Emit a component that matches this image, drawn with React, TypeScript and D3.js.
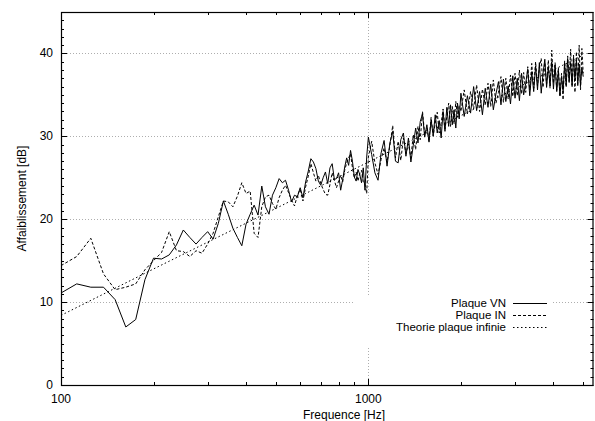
import * as d3 from "d3";

// grille de fréquences : 3 segments à pas constant
const segStarts = [100, 1000, 2000];
const segSteps = [12.5, 25, 50];

// Plaque VN (trait plein)
const vnLow = [
  11.1, 12.2, 11.8, 11.8, 10.3, 7.0, 7.9, 12.7, 15.3, 15.2,
  15.7, 16.9, 18.7, 17.8, 17.0, 17.8, 18.5, 17.6, 19.5, 22.2,
  20.6, 18.9, 17.8, 16.8, 19.4, 20.6, 21.7, 20.5, 24.0, 21.5,
  20.6, 22.9, 23.8, 24.9, 24.4, 24.7, 23.5, 22.1, 22.9, 22.7,
  23.8, 22.6, 24.5, 25.8, 27.3, 26.9, 26.1, 24.6, 24.1, 25.0,
  25.7, 24.3, 26.2, 26.7, 24.8, 24.9, 25.6, 23.5, 24.8, 26.3,
  27.4, 26.5, 28.3, 27.0, 25.1, 24.6, 26.0, 25.4, 24.4, 26.2,
  23.5, 27.5,
];
const vnMid = [
  29.9, 27.8, 25.6, 24.7, 28.0, 29.5, 26.4, 29.2, 30.6, 27.0,
  26.8, 29.6, 30.4, 27.6, 29.8, 26.9, 28.9, 31.0, 29.2, 31.8,
  32.7, 29.9, 31.4, 29.3, 32.0, 30.1, 32.6, 30.4, 31.9, 29.8,
  33.0, 30.6, 33.5, 31.2, 33.8, 31.4, 33.2, 31.0, 34.0, 32.1,
];
const vnHigh = [
  35.2, 32.4, 34.9, 32.8, 36.0, 33.1, 35.4, 32.6, 35.8, 33.5,
  36.3, 33.2, 35.1, 36.6, 33.8, 36.9, 34.2, 36.1, 33.9, 37.3,
  34.6, 37.0, 34.3, 37.6, 35.0, 36.4, 38.1, 34.9, 37.8, 35.4,
  38.5, 35.6, 38.9, 35.2, 37.6, 39.3, 35.9, 38.4, 36.1, 39.0,
  35.7, 38.6, 35.4, 37.9, 34.9, 37.2, 35.5, 38.8, 36.2, 39.4,
  36.6, 38.9, 36.0, 39.6, 36.8, 39.2, 36.4, 38.7, 36.1, 38.3,
  37.2,
];

// Plaque IN (tirets)
const inLow = [
  14.4, 15.5, 17.7, 13.4, 11.5, 11.8, 12.2, 13.9, 15.0, 16.0,
  18.5, 16.2, 16.1, 15.5, 16.2, 15.9, 17.0, 18.3, 20.3, 22.2,
  22.1, 21.5, 22.8, 24.4, 23.1, 23.4, 18.3, 17.8, 21.5, 22.7,
  22.9, 21.9, 21.2, 22.6, 23.5, 24.1, 23.2, 22.3, 21.6, 22.9,
  23.6, 22.2, 23.9, 25.2, 26.7, 25.6, 24.6, 25.3, 24.3, 23.6,
  23.0, 22.9, 24.2, 25.6, 24.7, 23.8, 24.6, 25.3, 24.5, 25.9,
  26.8, 27.4, 27.9, 26.2, 25.0, 25.7, 24.6, 25.5, 25.9, 24.5,
  24.2, 23.1,
];
const inMid = [
  27.5, 29.4, 26.8, 25.4, 27.2, 28.6, 26.9, 28.9, 31.3, 27.4,
  29.4, 27.1, 29.8, 27.9, 29.1, 27.4, 30.2, 28.4, 31.2, 29.6,
  33.0, 30.2, 31.0, 29.4, 32.3, 30.0, 31.6, 32.9, 30.4, 31.6,
  33.3, 30.9, 32.4, 34.0, 31.2, 33.6, 31.5, 34.2, 32.3, 33.7,
];
const inHigh = [
  33.0, 35.6, 32.7, 35.4, 33.3, 36.2, 33.0, 35.7, 33.8, 36.4,
  33.6, 36.8, 34.0, 35.3, 37.2, 34.1, 37.0, 34.5, 37.4, 34.8,
  37.6, 34.9, 38.0, 35.1, 37.7, 35.3, 38.4, 35.6, 38.8, 35.8,
  39.0, 36.1, 38.3, 39.4, 35.9, 38.9, 36.3, 39.2, 35.8, 40.4,
  36.4, 38.9, 35.6, 38.3, 34.8, 37.6, 34.4, 39.1, 35.9, 39.7,
  36.5, 40.5, 36.2, 39.8, 35.3, 40.2, 36.0, 41.0, 35.6, 40.6,
  37.6,
];

// Theorie plaque infinie (pointillés)
const theoryFreq = [100, 200, 500, 1000, 2000, 5000];
const theoryDb = [8.4, 14.0, 21.3, 26.9, 32.5, 39.8];

const yTickValues = [0, 10, 20, 30, 40];
const xTickLabels = [100, 1000];

const legendLabels = ["Plaque VN", "Plaque IN", "Theorie plaque infinie"];
const legendDash = ["none", "3,2", "1.5,2.5"];

type Pt = [number, number];

function buildSeries(segs: number[][]): Pt[] {
  return segs.flatMap((vals, s) =>
    vals.map((v, i) => [segStarts[s] + i * segSteps[s], v] as Pt),
  );
}

const W = 595;
const H = 421;
const margin = { top: 12, right: 1.5, bottom: 36, left: 61 };
const font = "'Liberation Sans', Arial, Helvetica, sans-serif";

export default function App() {
  const innerLeft = margin.left;
  const innerRight = W - margin.right;
  const innerTop = margin.top;
  const innerBottom = H - margin.bottom;

  const x = d3.scaleLog().domain([100, 5400]).range([innerLeft, innerRight]);
  const y = d3.scaleLinear().domain([0, 45]).range([innerBottom, innerTop]);

  const vn = buildSeries([vnLow, vnMid, vnHigh]);
  const inn = buildSeries([inLow, inMid, inHigh]);
  const theory: Pt[] = theoryFreq.map((f, i) => [f, theoryDb[i]]);

  const line = d3
    .line<Pt>()
    .x((d) => x(d[0]))
    .y((d) => y(d[1]));

  // ticks mineurs
  const yMinor = d3.range(0, 46, 1);
  const xMinor = [
    ...d3.range(200, 1000, 100),
    ...d3.range(2000, 5400, 1000),
  ];

  // cadre de la légende
  const legendBox = { x0: 353, x1: 553, y0: 297, y1: 348 };
  const legendTextX = 506;
  const legendRowY = [303, 315, 327];

  return (
    <>
      <style>{`body{margin:0}`}</style>
      <svg width={W} height={H} style={{ display: "block", background: "#fff" }}>
        <defs>
          <clipPath id="plot-clip">
            <rect
              x={innerLeft}
              y={innerTop}
              width={innerRight - innerLeft}
              height={innerBottom - innerTop}
            />
          </clipPath>
        </defs>

        {/* grille */}
        {yTickValues.slice(1).map((v) => (
          <line
            key={"gy" + v}
            x1={innerLeft}
            x2={innerRight}
            y1={Math.round(y(v)) + 0.5}
            y2={Math.round(y(v)) + 0.5}
            stroke="#999"
            strokeWidth={0.8}
            strokeDasharray="1,2"
          />
        ))}
        <line
          x1={Math.round(x(1000)) + 0.5}
          x2={Math.round(x(1000)) + 0.5}
          y1={innerTop}
          y2={innerBottom}
          stroke="#999"
          strokeWidth={0.8}
          strokeDasharray="1,2"
        />

        {/* fond de la légende */}
        <rect
          x={legendBox.x0}
          y={legendBox.y0}
          width={legendBox.x1 - legendBox.x0}
          height={legendBox.y1 - legendBox.y0}
          fill="#fff"
        />

        {/* courbes */}
        <g clipPath="url(#plot-clip)" fill="none" stroke="#000" strokeWidth={1}>
          <path d={line(theory) || ""} strokeDasharray={legendDash[2]} />
          <path d={line(inn) || ""} strokeDasharray={legendDash[1]} />
          <path d={line(vn) || ""} />
        </g>

        {/* ticks */}
        <g stroke="#000" strokeWidth={1}>
          {yMinor.map((v) => {
            const len = v % 10 === 0 ? 6 : 3;
            const yy = Math.round(y(v)) + 0.5;
            return (
              <g key={"ty" + v}>
                <line x1={innerLeft} x2={innerLeft + len} y1={yy} y2={yy} />
                <line x1={innerRight} x2={innerRight - len} y1={yy} y2={yy} />
              </g>
            );
          })}
          {xMinor.map((f) => {
            const xx = Math.round(x(f)) + 0.5;
            return (
              <g key={"tx" + f}>
                <line x1={xx} x2={xx} y1={innerBottom} y2={innerBottom - 3} />
                <line x1={xx} x2={xx} y1={innerTop} y2={innerTop + 3} />
              </g>
            );
          })}
          {xTickLabels.map((f) => {
            const xx = Math.round(x(f)) + 0.5;
            return (
              <g key={"txm" + f}>
                <line x1={xx} x2={xx} y1={innerBottom} y2={innerBottom - 6} />
                <line x1={xx} x2={xx} y1={innerTop} y2={innerTop + 6} />
              </g>
            );
          })}
        </g>

        {/* cadre */}
        <rect
          x={innerLeft + 0.5}
          y={innerTop + 0.5}
          width={innerRight - innerLeft - 1}
          height={innerBottom - innerTop}
          fill="none"
          stroke="#000"
          strokeWidth={1.2}
        />

        {/* libellés */}
        <g fontFamily={font} fontSize={12} fill="#000">
          {yTickValues.map((v) => (
            <text key={"ly" + v} x={innerLeft - 8} y={y(v) + 4} textAnchor="end">
              {v}
            </text>
          ))}
          {xTickLabels.map((f) => (
            <text key={"lx" + f} x={x(f)} y={innerBottom + 18} textAnchor="middle">
              {f}
            </text>
          ))}
          <text x={344} y={419} textAnchor="middle">
            Frequence [Hz]
          </text>
          <text
            transform={`translate(26, ${(innerTop + innerBottom) / 2}) rotate(-90)`}
            textAnchor="middle"
          >
            Affaiblissement [dB]
          </text>
        </g>

        {/* légende */}
        <g fontFamily={font} fontSize={11.5}>
          {legendLabels.map((lab, i) => (
            <g key={lab}>
              <text x={legendTextX} y={legendRowY[i] + 4} textAnchor="end" fill="#000">
                {lab}
              </text>
              <line
                x1={513}
                x2={547}
                y1={legendRowY[i] + 0.5}
                y2={legendRowY[i] + 0.5}
                stroke="#000"
                strokeWidth={1}
                strokeDasharray={legendDash[i]}
              />
            </g>
          ))}
        </g>
      </svg>
    </>
  );
}
